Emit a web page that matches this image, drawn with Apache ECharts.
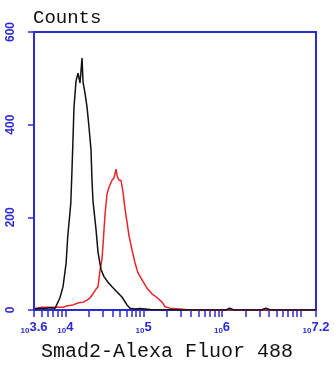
<!DOCTYPE html>
<html>
<head>
<meta charset="utf-8">
<script src="https://cdn.jsdelivr.net/npm/echarts@6/dist/echarts.min.js"></script>
<style>
html, body { margin: 0; padding: 0; background: #fff; }
#main { width: 334px; height: 365px; }
</style>
</head>
<body>
<div id="main"></div>
<script>
// x values are log10 of the fluorescence intensity
var blackX = [3.61, 3.68, 3.74, 3.80, 3.87, 3.93, 3.97, 4.01, 4.03, 4.07, 4.085, 4.10, 4.11, 4.136, 4.162, 4.187, 4.20, 4.213, 4.226, 4.251, 4.277, 4.302, 4.328, 4.34, 4.353, 4.391, 4.417, 4.455, 4.493, 4.545, 4.596, 4.66, 4.723, 4.787, 4.826, 4.89, 4.95, 5.02, 5.08, 5.5, 6.05, 6.10, 6.15, 6.5, 6.56, 6.62, 7.2];
var blackY = [2, 4, 3, 5, 4, 26, 50, 101, 157, 231, 302, 380, 436, 494, 511, 490, 515, 544, 492, 468, 438, 395, 345, 281, 235, 175, 125, 88, 72, 60, 50, 39, 28, 11, 4, 2, 3, 2, 1, 0, 0, 4, 0, 0, 4, 0, 0];

var redX = [3.61, 3.70, 3.87, 3.97, 4.03, 4.10, 4.16, 4.23, 4.28, 4.315, 4.353, 4.391, 4.417, 4.443, 4.468, 4.481, 4.506, 4.532, 4.557, 4.596, 4.62, 4.647, 4.66, 4.685, 4.711, 4.736, 4.762, 4.787, 4.813, 4.851, 4.889, 4.928, 4.979, 5.043, 5.106, 5.17, 5.234, 5.272, 5.336, 5.464, 5.59, 7.2];
var redY = [3, 6, 6, 6, 9, 11, 15, 17, 22, 26, 35, 45, 50, 86, 110, 140, 205, 250, 265, 280, 285, 304, 290, 280, 280, 255, 218, 190, 160, 130, 102, 80, 65, 47, 35, 27, 17, 7, 4, 2, 0, 0];

var xLabelVals = [3.6, 4, 5, 6, 7.2];
var xLabelText = ['3.6', '4', '5', '6', '7.2'];
var yTicks = [0, 200, 400, 600];

// minor ticks: 2..9 times each decade, plus the two axis ends
var xTickVals = [3.6];
for (var d = 3; d <= 7; d++) {
    for (var m = 1; m <= 9; m++) {
        var v = d + Math.log10(m);
        if (v > 3.6 && v < 7.2) xTickVals.push(v);
    }
}
xTickVals.push(7.2);

function pairs(xs, ys) {
    var out = [];
    for (var i = 0; i < xs.length; i++) out.push([xs[i], ys[i]]);
    return out;
}

var blue = '#2b2bd6';

var option = {
    backgroundColor: '#fff',
    animation: false,
    title: [
        {
            text: 'Counts',
            left: 28,
            top: 3,
            textStyle: { fontFamily: 'Liberation Mono', fontSize: 19, fontWeight: 'normal', color: '#111' }
        },
        {
            text: 'Smad2-Alexa Fluor 488',
            left: 'center',
            top: 337,
            textStyle: { fontFamily: 'Liberation Mono', fontSize: 20, fontWeight: 'normal', color: '#111' }
        }
    ],
    grid: {
        left: 34, right: 18, top: 32, bottom: 55,
        show: true,
        borderColor: blue,
        borderWidth: 2,
        backgroundColor: '#fff'
    },
    xAxis: {
        type: 'value',
        min: 3.6,
        max: 7.2,
        axisLine: { lineStyle: { color: blue, width: 2 } },
        axisTick: { show: true, length: 7, customValues: xTickVals, lineStyle: { color: blue, width: 1.5 } },
        axisLabel: {
            customValues: xLabelVals,
            margin: 11,
            formatter: function (v) {
                var i = xLabelVals.indexOf(v);
                return '{b|10}{e|' + (i >= 0 ? xLabelText[i] : v) + '}';
            },
            rich: {
                b: { fontSize: 8, fontWeight: 'bold', color: blue, fontFamily: 'Arial', verticalAlign: 'bottom', lineHeight: 14 },
                e: { fontSize: 13, fontWeight: 'bold', color: blue, fontFamily: 'Arial', verticalAlign: 'top', lineHeight: 14 }
            }
        },
        splitLine: { show: false }
    },
    yAxis: {
        type: 'value',
        min: 0,
        max: 600,
        interval: 200,
        axisLine: { show: true, lineStyle: { color: blue, width: 2 } },
        axisTick: { show: true, length: 6, lineStyle: { color: blue, width: 1.5 } },
        axisLabel: {
            rotate: 90,
            margin: 17,
            color: blue,
            fontSize: 12,
            fontWeight: 'bold',
            fontFamily: 'Arial',
            formatter: function (v) { return yTicks.indexOf(v) >= 0 ? String(v) : ''; }
        },
        splitLine: { show: false }
    },
    series: [
        {
            name: 'control',
            type: 'line',
            data: pairs(blackX, blackY),
            showSymbol: false,
            lineStyle: { color: '#111', width: 1.5 },
            z: 3
        },
        {
            name: 'Smad2',
            type: 'line',
            data: pairs(redX, redY),
            showSymbol: false,
            lineStyle: { color: '#e8252d', width: 1.5 },
            z: 2
        }
    ]
};

var chart = echarts.init(document.getElementById('main'));
chart.setOption(option);
</script>
</body>
</html>
